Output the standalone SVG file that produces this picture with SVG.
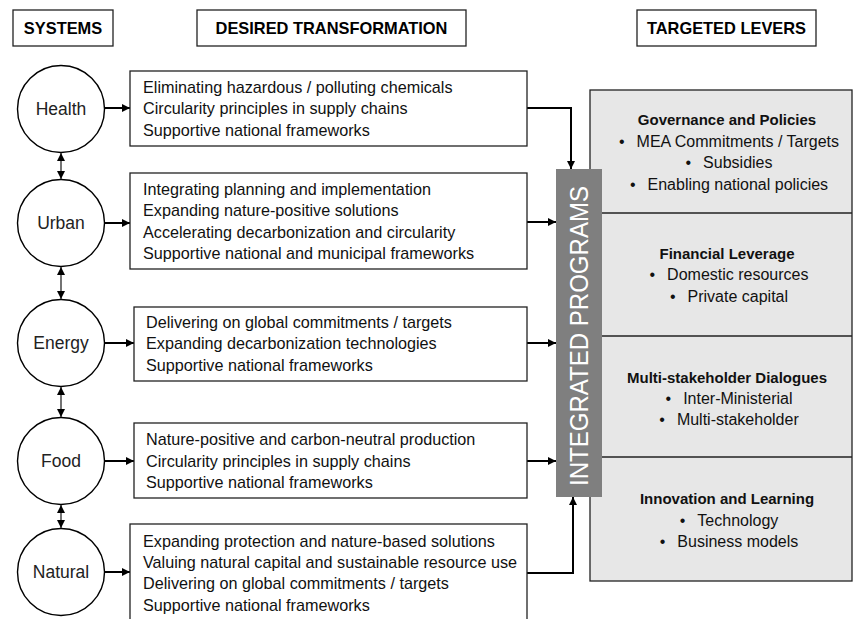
<svg xmlns="http://www.w3.org/2000/svg" width="854" height="619" viewBox="0 0 854 619">
<defs>
<marker id="ah" viewBox="0 0 10 10" refX="10" refY="5" markerWidth="8" markerHeight="8" markerUnits="userSpaceOnUse" orient="auto-start-reverse">
<path d="M0,0 L10,5 L0,10 z" fill="#000"/>
</marker>
<marker id="ahs" viewBox="0 0 10 10" refX="10" refY="5" markerWidth="8" markerHeight="8" markerUnits="userSpaceOnUse" orient="auto-start-reverse">
<path d="M0,0 L10,5 L0,10 z" fill="#000"/>
</marker>
</defs>
<style>
.hdr{fill:#fff;stroke:#222;stroke-width:1.3}
.hdrt{font-family:"Liberation Sans",Arial,sans-serif;font-weight:bold;font-size:16.4px;fill:#000;text-anchor:middle}
.circ{fill:#fff;stroke:#000;stroke-width:1.4}
.ct{font-family:"Liberation Sans",Arial,sans-serif;font-size:17.5px;fill:#222;text-anchor:middle}
.box{fill:#fff;stroke:#222;stroke-width:1.3}
.bt{font-family:"Liberation Sans",Arial,sans-serif;font-size:16.2px;fill:#111}
.conn{fill:none;stroke:#000;stroke-width:2;marker-end:url(#ah)}
.dbl{fill:none;stroke:#000;stroke-width:1.1;marker-start:url(#ahs);marker-end:url(#ahs)}
.panel{fill:#e7e7e7;stroke:#222;stroke-width:1.3}
.pt{font-family:"Liberation Sans",Arial,sans-serif;font-size:15px;font-weight:bold;fill:#111;text-anchor:middle}
.pb{font-family:"Liberation Sans",Arial,sans-serif;font-size:16px;fill:#111;text-anchor:middle}
</style>
<rect width="854" height="619" fill="#fff"/>

<g id="header-systems"><rect class="hdr" x="13" y="10" width="100" height="36"/><text class="hdrt" x="63" y="34">SYSTEMS</text></g>
<g id="header-transformation"><rect class="hdr" x="197" y="10" width="269" height="36"/><text class="hdrt" x="331.5" y="34">DESIRED TRANSFORMATION</text></g>
<g id="header-levers"><rect class="hdr" x="637" y="10" width="179" height="36"/><text class="hdrt" x="726.5" y="34">TARGETED LEVERS</text></g>

<g id="connectors">
<line class="dbl" x1="61" y1="153" x2="61" y2="179"/>
<line class="dbl" x1="61" y1="267" x2="61" y2="299"/>
<line class="dbl" x1="61" y1="387" x2="61" y2="417"/>
<line class="dbl" x1="61" y1="505" x2="61" y2="528"/>
<line class="conn" x1="105" y1="108" x2="130" y2="108"/>
<line class="conn" x1="105" y1="223" x2="130" y2="223"/>
<line class="conn" x1="105" y1="343" x2="134" y2="343"/>
<line class="conn" x1="105" y1="461" x2="134" y2="461"/>
<line class="conn" x1="105" y1="572" x2="130" y2="572"/>
<polyline class="conn" points="527,108 571,108 571,169"/>
<line class="conn" x1="527" y1="222" x2="556" y2="222"/>
<line class="conn" x1="527" y1="343" x2="556" y2="343"/>
<line class="conn" x1="527" y1="461" x2="556" y2="461"/>
<polyline class="conn" points="527,573 573,573 573,497"/>
</g>

<g id="health"><circle class="circ" cx="61" cy="109" r="43.5"/><text class="ct" x="61" y="115">Health</text></g>
<g id="urban"><circle class="circ" cx="61" cy="223" r="43.5"/><text class="ct" x="61" y="229">Urban</text></g>
<g id="energy"><circle class="circ" cx="61" cy="343" r="43.5"/><text class="ct" x="61" y="349">Energy</text></g>
<g id="food"><circle class="circ" cx="61" cy="461" r="43.5"/><text class="ct" x="61" y="467">Food</text></g>
<g id="natural"><circle class="circ" cx="61" cy="572" r="43.5"/><text class="ct" x="61" y="578">Natural</text></g>

<g id="health-box"><rect class="box" x="130" y="71" width="397" height="75"/>
<text class="bt" x="143" y="93">Eliminating hazardous / polluting chemicals</text>
<text class="bt" x="143" y="114">Circularity principles in supply chains</text>
<text class="bt" x="143" y="136">Supportive national frameworks</text></g>

<g id="urban-box"><rect class="box" x="130" y="173" width="397" height="96"/>
<text class="bt" x="143" y="195">Integrating planning and implementation</text>
<text class="bt" x="143" y="216">Expanding nature-positive solutions</text>
<text class="bt" x="143" y="238">Accelerating decarbonization and circularity</text>
<text class="bt" x="143" y="259">Supportive national and municipal frameworks</text></g>

<g id="energy-box"><rect class="box" x="134" y="307" width="393" height="74"/>
<text class="bt" x="146" y="328">Delivering on global commitments / targets</text>
<text class="bt" x="146" y="349">Expanding decarbonization technologies</text>
<text class="bt" x="146" y="371">Supportive national frameworks</text></g>

<g id="food-box"><rect class="box" x="134" y="423" width="393" height="75"/>
<text class="bt" x="146" y="445">Nature-positive and carbon-neutral production</text>
<text class="bt" x="146" y="467">Circularity principles in supply chains</text>
<text class="bt" x="146" y="488">Supportive national frameworks</text></g>

<g id="natural-box"><rect class="box" x="130" y="524" width="397" height="100"/>
<text class="bt" x="143" y="547">Expanding protection and nature-based solutions</text>
<text class="bt" x="143" y="568">Valuing natural capital and sustainable resource use</text>
<text class="bt" x="143" y="589">Delivering on global commitments / targets</text>
<text class="bt" x="143" y="611">Supportive national frameworks</text></g>

<g id="levers">
<rect class="panel" x="590" y="90" width="262" height="491"/>
<line x1="590" y1="213" x2="852" y2="213" stroke="#222" stroke-width="1.3"/>
<line x1="590" y1="336" x2="852" y2="336" stroke="#222" stroke-width="1.3"/>
<line x1="590" y1="457" x2="852" y2="457" stroke="#222" stroke-width="1.3"/>
</g>
<g id="governance">
<text class="pt" x="727" y="125">Governance and Policies</text>
<text class="pb" x="729" y="147">•<tspan dx="12">MEA Commitments / Targets</tspan></text>
<text class="pb" x="729" y="168">•<tspan dx="12">Subsidies</tspan></text>
<text class="pb" x="729" y="190">•<tspan dx="12">Enabling national policies</tspan></text>
</g>
<g id="financial">
<text class="pt" x="727" y="259">Financial Leverage</text>
<text class="pb" x="729" y="280">•<tspan dx="12">Domestic resources</tspan></text>
<text class="pb" x="729" y="302">•<tspan dx="12">Private capital</tspan></text>
</g>
<g id="dialogues">
<text class="pt" x="727" y="383">Multi-stakeholder Dialogues</text>
<text class="pb" x="729" y="404">•<tspan dx="12">Inter-Ministerial</tspan></text>
<text class="pb" x="729" y="425">•<tspan dx="12">Multi-stakeholder</tspan></text>
</g>
<g id="innovation">
<text class="pt" x="727" y="504">Innovation and Learning</text>
<text class="pb" x="729" y="526">•<tspan dx="12">Technology</tspan></text>
<text class="pb" x="729" y="547">•<tspan dx="12">Business models</tspan></text>
</g>

<g id="integrated-programs">
<rect x="556" y="169" width="46" height="328" fill="#7f7f7f"/>
<text transform="translate(588,336) rotate(-90)" text-anchor="middle" font-family="Liberation Sans, Arial, sans-serif" font-size="26" fill="#fff" textLength="300" lengthAdjust="spacingAndGlyphs">INTEGRATED PROGRAMS</text>
</g>
</svg>
